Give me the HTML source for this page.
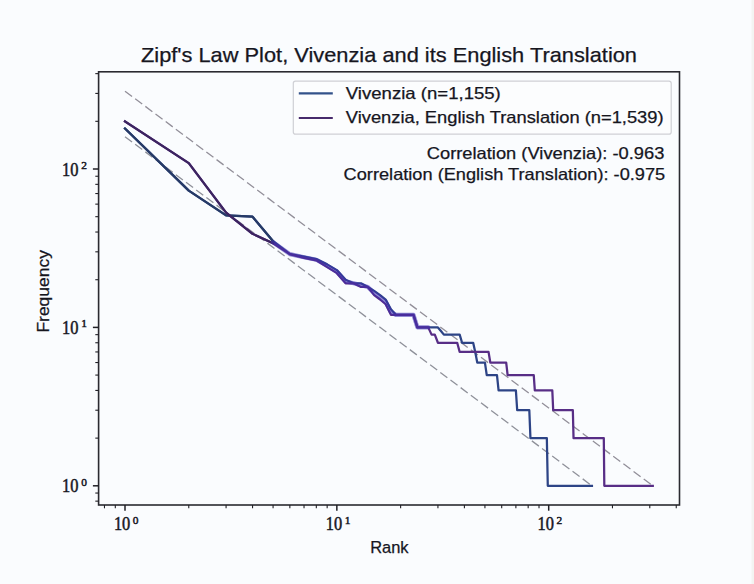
<!DOCTYPE html>
<html><head><meta charset="utf-8"><style>
html,body{margin:0;padding:0;background:#fafcfe;}
svg{display:block;}
text{font-family:"Liberation Sans",sans-serif;fill:#16161e;stroke:#16161e;stroke-width:0.25px;}
text.s{font-family:"Liberation Serif",serif;stroke-width:0.5px;}
</style></head><body>
<svg width="754" height="584" viewBox="0 0 754 584">
<rect x="0" y="0" width="754" height="584" fill="#fafcfe"/>
<rect x="751.5" y="0" width="2.5" height="584" fill="#f3f4f2"/>
<line x1="125.00" y1="136.67" x2="591.94" y2="485.80" stroke="#8f919a" stroke-width="1.3" stroke-dasharray="8.8,3.9"/>
<line x1="125.00" y1="91.17" x2="652.79" y2="485.80" stroke="#928f99" stroke-width="1.3" stroke-dasharray="8.8,3.9"/>
<path d="M125.00,128.56 L188.77,190.65 L226.08,215.32 L252.55,216.68 L273.08,241.22 L289.85,254.16 L304.03,256.57 L316.32,259.07 L327.16,264.37 L336.85,270.10 L345.62,279.72 L353.62,283.25 L360.99,283.25 L367.81,286.96 L374.15,290.90 L380.09,295.07 L385.67,299.51 L390.93,309.35 L395.90,314.86 L413.48,314.86 L417.40,327.40 L437.93,327.40 L440.94,330.93 L443.87,334.65 L459.68,334.65 L462.07,342.75 L473.17,342.75 L475.23,351.94 L477.26,362.54 L484.93,362.54 L486.75,375.08 L496.98,375.08 L498.58,390.43 L515.88,390.43 L517.19,410.22 L529.31,410.22 L530.44,438.12 L546.84,438.12 L547.78,485.80 L591.94,485.80" fill="none" stroke="#2d4486" stroke-width="2.25" stroke-linejoin="round" stroke-linecap="square"/>
<path d="M125.00,121.32 L188.77,163.07 L226.08,212.67 L252.55,233.78 L273.08,243.21 L289.85,254.16 L304.03,257.81 L316.32,260.36 L327.16,267.17 L336.85,273.16 L345.62,283.25 L353.62,283.25 L360.99,286.96 L367.81,286.96 L374.15,295.07 L380.09,299.51 L385.67,304.25 L390.93,314.86 L413.48,314.86 L417.40,327.40 L428.23,327.40 L431.58,334.65 L434.81,334.65 L437.93,342.75 L457.22,342.75 L459.68,351.94 L488.54,351.94 L490.29,362.54 L506.19,362.54 L507.64,375.08 L533.75,375.08 L534.82,390.43 L552.31,390.43 L553.19,410.22 L572.84,410.22 L573.54,438.12 L603.80,438.12 L604.30,485.80 L652.79,485.80" fill="none" stroke="#582e86" stroke-width="2.25" stroke-linejoin="round" stroke-linecap="square"/>
<path d="M125.00,128.56 L188.77,190.65 L226.08,215.32 L252.55,216.68 L273.08,241.22" fill="none" stroke="#263a66" stroke-width="2.25" stroke-linejoin="round" stroke-linecap="square"/>
<path d="M125.00,121.32 L188.77,163.07 L226.08,212.67 L252.55,233.78 L273.08,243.21" fill="none" stroke="#3c2460" stroke-width="2.25" stroke-linejoin="round" stroke-linecap="square"/>
<path d="M273.08,242.22 L289.85,254.16 L304.03,257.19 L316.32,259.71 L327.16,265.77 L336.85,271.63 L345.62,281.48 L353.62,283.25 L360.99,285.11 L367.81,286.96 L374.15,292.98 L380.09,297.29 L385.67,301.88 L390.93,312.10 L395.90,314.86 L400.62,314.86 L405.11,314.86 L409.39,314.86 L413.48,314.86 L417.40,327.40 L421.15,327.40 L424.76,327.40 L428.23,327.40" fill="none" stroke="#3e2eb0" stroke-width="4.2" stroke-opacity="0.55" stroke-linejoin="round" stroke-linecap="round"/>
<rect x="98.6" y="71.8" width="580.9" height="433.2" fill="none" stroke="#2a2a30" stroke-width="1.6"/>
<line x1="104.47" y1="505.0" x2="104.47" y2="508.3" stroke="#202026" stroke-width="1.1"/>
<line x1="98.6" y1="501.15" x2="95.3" y2="501.15" stroke="#202026" stroke-width="1.1"/>
<line x1="115.31" y1="505.0" x2="115.31" y2="508.3" stroke="#202026" stroke-width="1.1"/>
<line x1="98.6" y1="493.05" x2="95.3" y2="493.05" stroke="#202026" stroke-width="1.1"/>
<line x1="188.77" y1="505.0" x2="188.77" y2="508.3" stroke="#202026" stroke-width="1.1"/>
<line x1="98.6" y1="438.12" x2="95.3" y2="438.12" stroke="#202026" stroke-width="1.1"/>
<line x1="226.08" y1="505.0" x2="226.08" y2="508.3" stroke="#202026" stroke-width="1.1"/>
<line x1="98.6" y1="410.22" x2="95.3" y2="410.22" stroke="#202026" stroke-width="1.1"/>
<line x1="252.55" y1="505.0" x2="252.55" y2="508.3" stroke="#202026" stroke-width="1.1"/>
<line x1="98.6" y1="390.43" x2="95.3" y2="390.43" stroke="#202026" stroke-width="1.1"/>
<line x1="273.08" y1="505.0" x2="273.08" y2="508.3" stroke="#202026" stroke-width="1.1"/>
<line x1="98.6" y1="375.08" x2="95.3" y2="375.08" stroke="#202026" stroke-width="1.1"/>
<line x1="289.85" y1="505.0" x2="289.85" y2="508.3" stroke="#202026" stroke-width="1.1"/>
<line x1="98.6" y1="362.54" x2="95.3" y2="362.54" stroke="#202026" stroke-width="1.1"/>
<line x1="304.03" y1="505.0" x2="304.03" y2="508.3" stroke="#202026" stroke-width="1.1"/>
<line x1="98.6" y1="351.94" x2="95.3" y2="351.94" stroke="#202026" stroke-width="1.1"/>
<line x1="316.32" y1="505.0" x2="316.32" y2="508.3" stroke="#202026" stroke-width="1.1"/>
<line x1="98.6" y1="342.75" x2="95.3" y2="342.75" stroke="#202026" stroke-width="1.1"/>
<line x1="327.16" y1="505.0" x2="327.16" y2="508.3" stroke="#202026" stroke-width="1.1"/>
<line x1="98.6" y1="334.65" x2="95.3" y2="334.65" stroke="#202026" stroke-width="1.1"/>
<line x1="400.62" y1="505.0" x2="400.62" y2="508.3" stroke="#202026" stroke-width="1.1"/>
<line x1="98.6" y1="279.72" x2="95.3" y2="279.72" stroke="#202026" stroke-width="1.1"/>
<line x1="437.93" y1="505.0" x2="437.93" y2="508.3" stroke="#202026" stroke-width="1.1"/>
<line x1="98.6" y1="251.82" x2="95.3" y2="251.82" stroke="#202026" stroke-width="1.1"/>
<line x1="464.40" y1="505.0" x2="464.40" y2="508.3" stroke="#202026" stroke-width="1.1"/>
<line x1="98.6" y1="232.03" x2="95.3" y2="232.03" stroke="#202026" stroke-width="1.1"/>
<line x1="484.93" y1="505.0" x2="484.93" y2="508.3" stroke="#202026" stroke-width="1.1"/>
<line x1="98.6" y1="216.68" x2="95.3" y2="216.68" stroke="#202026" stroke-width="1.1"/>
<line x1="501.70" y1="505.0" x2="501.70" y2="508.3" stroke="#202026" stroke-width="1.1"/>
<line x1="98.6" y1="204.14" x2="95.3" y2="204.14" stroke="#202026" stroke-width="1.1"/>
<line x1="515.88" y1="505.0" x2="515.88" y2="508.3" stroke="#202026" stroke-width="1.1"/>
<line x1="98.6" y1="193.54" x2="95.3" y2="193.54" stroke="#202026" stroke-width="1.1"/>
<line x1="528.17" y1="505.0" x2="528.17" y2="508.3" stroke="#202026" stroke-width="1.1"/>
<line x1="98.6" y1="184.35" x2="95.3" y2="184.35" stroke="#202026" stroke-width="1.1"/>
<line x1="539.01" y1="505.0" x2="539.01" y2="508.3" stroke="#202026" stroke-width="1.1"/>
<line x1="98.6" y1="176.25" x2="95.3" y2="176.25" stroke="#202026" stroke-width="1.1"/>
<line x1="612.47" y1="505.0" x2="612.47" y2="508.3" stroke="#202026" stroke-width="1.1"/>
<line x1="98.6" y1="121.32" x2="95.3" y2="121.32" stroke="#202026" stroke-width="1.1"/>
<line x1="649.78" y1="505.0" x2="649.78" y2="508.3" stroke="#202026" stroke-width="1.1"/>
<line x1="98.6" y1="93.42" x2="95.3" y2="93.42" stroke="#202026" stroke-width="1.1"/>
<line x1="676.25" y1="505.0" x2="676.25" y2="508.3" stroke="#202026" stroke-width="1.1"/>
<line x1="98.6" y1="73.63" x2="95.3" y2="73.63" stroke="#202026" stroke-width="1.1"/>
<line x1="125.00" y1="505.0" x2="125.00" y2="510.7" stroke="#202026" stroke-width="1.5"/>
<line x1="98.6" y1="485.80" x2="92.89999999999999" y2="485.80" stroke="#202026" stroke-width="1.5"/>
<line x1="336.85" y1="505.0" x2="336.85" y2="510.7" stroke="#202026" stroke-width="1.5"/>
<line x1="98.6" y1="327.40" x2="92.89999999999999" y2="327.40" stroke="#202026" stroke-width="1.5"/>
<line x1="548.70" y1="505.0" x2="548.70" y2="510.7" stroke="#202026" stroke-width="1.5"/>
<line x1="98.6" y1="169.00" x2="92.89999999999999" y2="169.00" stroke="#202026" stroke-width="1.5"/>
<rect x="293.3" y="81.1" width="377.9" height="53.0" rx="2.2" ry="2.2" fill="#fcfdfe" stroke="#cfd0d5" stroke-width="1.2"/>
<line x1="298.8" y1="93.4" x2="332.8" y2="93.4" stroke="#33528a" stroke-width="2.1" stroke-linecap="butt"/>
<line x1="298.8" y1="118.0" x2="332.8" y2="118.0" stroke="#472a6c" stroke-width="2.1" stroke-linecap="butt"/>
<text x="141.0" y="61.9" font-size="20.2" text-anchor="start" textLength="496" lengthAdjust="spacingAndGlyphs">Zipf's Law Plot, Vivenzia and its English Translation</text>
<text class="s" x="113.90" y="530.4" font-size="18.2" textLength="16.4" lengthAdjust="spacingAndGlyphs">10</text>
<text class="s" x="132.80" y="523.8" font-size="11.4">0</text>
<text class="s" x="62.0" y="492.30" font-size="18.2" textLength="16.4" lengthAdjust="spacingAndGlyphs">10</text>
<text class="s" x="81.2" y="485.70" font-size="11.4">0</text>
<text class="s" x="325.75" y="530.4" font-size="18.2" textLength="16.4" lengthAdjust="spacingAndGlyphs">10</text>
<text class="s" x="344.65" y="523.8" font-size="11.4">1</text>
<text class="s" x="62.0" y="333.90" font-size="18.2" textLength="16.4" lengthAdjust="spacingAndGlyphs">10</text>
<text class="s" x="81.2" y="327.30" font-size="11.4">1</text>
<text class="s" x="537.60" y="530.4" font-size="18.2" textLength="16.4" lengthAdjust="spacingAndGlyphs">10</text>
<text class="s" x="556.50" y="523.8" font-size="11.4">2</text>
<text class="s" x="62.0" y="175.50" font-size="18.2" textLength="16.4" lengthAdjust="spacingAndGlyphs">10</text>
<text class="s" x="81.2" y="168.90" font-size="11.4">2</text>
<text x="370.2" y="553.1" font-size="16.3" text-anchor="start" textLength="38.4" lengthAdjust="spacingAndGlyphs">Rank</text>
<text x="0" y="0" font-size="16.3" transform="translate(49.4,332.6) rotate(-90)" textLength="82.5" lengthAdjust="spacingAndGlyphs">Frequency</text>
<text x="345.8" y="99.2" font-size="16.5" text-anchor="start" textLength="155" lengthAdjust="spacingAndGlyphs">Vivenzia (n=1,155)</text>
<text x="345.8" y="123.4" font-size="16.5" text-anchor="start" textLength="317.8" lengthAdjust="spacingAndGlyphs">Vivenzia, English Translation (n=1,539)</text>
<text x="426.8" y="159.0" font-size="16.5" text-anchor="start" textLength="237.6" lengthAdjust="spacingAndGlyphs">Correlation (Vivenzia): -0.963</text>
<text x="343.6" y="179.6" font-size="16.5" text-anchor="start" textLength="321.6" lengthAdjust="spacingAndGlyphs">Correlation (English Translation): -0.975</text>
</svg>
</body></html>
